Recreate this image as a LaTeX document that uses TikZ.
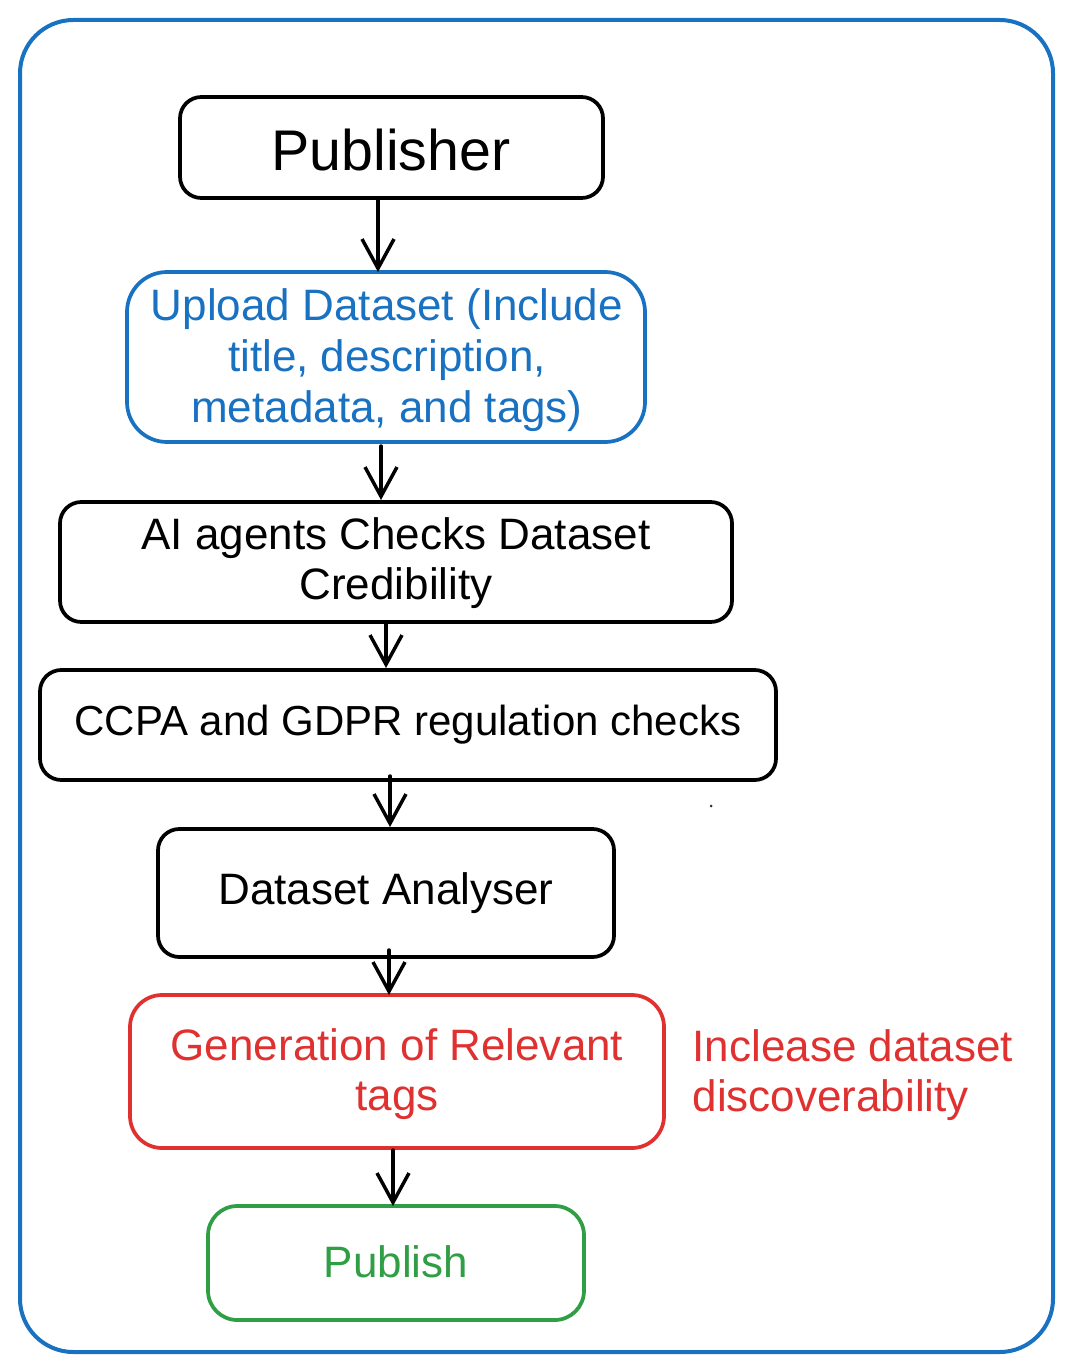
\documentclass[tikz,border=0pt]{standalone}
\usepackage{fontspec}
\setmainfont{Liberation Sans}
\usetikzlibrary{arrows.meta}
\definecolor{exblue}{HTML}{1971C2}
\definecolor{exred}{HTML}{E03131}
\definecolor{exgreen}{HTML}{2F9E44}
\tikzset{
  px/.style={x=0.75pt,y=-0.75pt},
  boxstyle/.style={draw=black,line width=2.8pt,rounded corners=16pt,inner sep=0pt},
  txt/.style={font=\fontsize{33}{38}\selectfont,align=center},
  flow/.style={draw=black,line width=2.6pt,line cap=round,-{Straight Barb[length=22pt,width=24pt,line width=2.6pt]}},
}
\begin{document}
\begin{tikzpicture}[px]
\useasboundingbox (0,0) rectangle (1072,1369);
% outer frame
\draw[exblue,line width=3pt,rounded corners=40pt] (20,20) rectangle (1053,1352);
% boxes
\draw[boxstyle] (180,97) rectangle (603,198);
\node[font=\fontsize{43}{48}\selectfont] (pub) at (391,150) {Publisher};
\coordinate (pubB) at (378,198);

\draw[boxstyle,draw=exblue,rounded corners=30pt] (127,272) rectangle (645,442);
\node[txt,text=exblue] (up) at (387,360) {Upload Dataset (Include\\title, description,\\metadata, and tags)};
\coordinate (upT) at (378,272);
\coordinate (upB) at (381,446);

\draw[boxstyle] (60,502) rectangle (732,622);
\node[txt] (ai) at (396,563) {AI agents Checks Dataset\\Credibility};
\coordinate (aiT) at (381,500);
\coordinate (aiB) at (386,624);

\draw[boxstyle] (40,670) rectangle (776,780);
\node[txt,font=\fontsize{31.5}{38}\selectfont] (ccpa) at (408,725) {CCPA and GDPR regulation checks};
\coordinate (ccT) at (386,668);
\coordinate (ccB) at (390,776);

\draw[boxstyle] (158,829) rectangle (614,957);
\node[txt] (ana) at (386,893) {Dataset Analyser};
\coordinate (anT) at (390,827);
\coordinate (anB) at (389,950);

\draw[boxstyle,draw=exred,rounded corners=24pt] (130,995) rectangle (664,1148);
\node[txt,text=exred] (gen) at (397,1074) {Generation of Relevant\\tags};
\coordinate (genT) at (389,995);
\coordinate (genB) at (393,1150);

\draw[boxstyle,draw=exgreen,rounded corners=22pt] (208,1206) rectangle (584,1320);
\node[txt,text=exgreen] (publish) at (396,1262) {Publish};
\coordinate (pbT) at (393,1206);

\node[txt,text=exred,align=left,anchor=west] (side) at (688,1075) {Inclease dataset\\discoverability};

\fill[black!80] (711,806) circle (1.5);

% connectors
\draw[flow] (pubB) -- (upT);
\draw[flow] (upB) -- (aiT);
\draw[flow] (aiB) -- (ccT);
\draw[flow] (ccB) -- (anT);
\draw[flow] (anB) -- (genT);
\draw[flow] (genB) -- (pbT);
\end{tikzpicture}
\end{document}
